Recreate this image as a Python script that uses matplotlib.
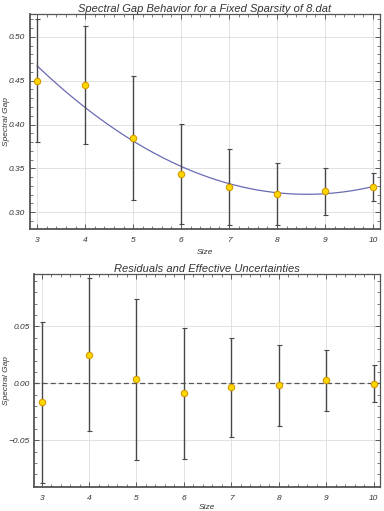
import numpy as np
import matplotlib
matplotlib.use("Agg")
import matplotlib.pyplot as plt
from matplotlib.ticker import MultipleLocator

plt.rcParams['font.family'] = ['Liberation Sans', 'DejaVu Sans']

size = [3, 4, 5, 6, 7, 8, 9, 10]
gap = [0.450, 0.445, 0.3844, 0.3435, 0.329, 0.3205, 0.3239, 0.3288]
sigma = [0.0705, 0.067, 0.0708, 0.0573, 0.0434, 0.0354, 0.027, 0.0163]
residuals = [-0.0167, 0.0252, 0.0035, -0.0088, -0.0035, -0.0018, 0.0025, -0.0003]
fit_coeffs = [0.004632, -0.079868, 0.664747]

title_top = "Spectral Gap Behavior for a Fixed Sparsity of 8.dat"
title_bot = "Residuals and Effective Uncertainties"
xlabel = "Size"
ylabel = "Spectral Gap"

fig = plt.figure(figsize=(3.84, 5.11), dpi=100)
ax1 = fig.add_axes([0.078, 0.552, 0.912, 0.4207])
ax2 = fig.add_axes([0.0893, 0.0476, 0.9007, 0.4162])

frame_col = '#555555'
tick_col = '#444444'
txt_col = '#333333'
marker_kw = dict(fmt='o', markersize=4.6, markerfacecolor='#FFD700',
                 markeredgecolor='#D49A00', markeredgewidth=0.8,
                 ecolor='#484848', elinewidth=1.0, capsize=1.8, capthick=0.8,
                 zorder=4)


def style(ax, xlab_y, ylab_x):
    for s in ax.spines.values():
        s.set_color(frame_col)
        s.set_linewidth(0.9)
    ax.spines['left'].set_linewidth(1.3)
    ax.spines['bottom'].set_linewidth(1.3)
    ax.tick_params(which='both', direction='in', top=True, right=True,
                   colors=tick_col, labelcolor=txt_col, labelsize=6)
    ax.tick_params(which='major', length=3.5, width=0.6)
    ax.tick_params(which='minor', length=2, width=0.5)
    ax.xaxis.set_major_locator(MultipleLocator(1))
    ax.xaxis.set_minor_locator(MultipleLocator(0.2))
    ax.grid(True, which='major', color='#DDDDDD', linewidth=0.6, zorder=0)
    ax.set_axisbelow(True)
    for lab in ax.get_xticklabels() + ax.get_yticklabels():
        lab.set_fontstyle('italic')
    ax.tick_params(axis='x', pad=6)
    ax.set_xlabel(xlabel, fontsize=6, fontstyle='italic', color=txt_col)
    ax.set_ylabel(ylabel, fontsize=6, fontstyle='italic', color=txt_col)
    ax.xaxis.set_label_coords(0.5, xlab_y)
    ax.xaxis.label.set_va('center')
    ax.yaxis.set_label_coords(ylab_x, 0.5)
    ax.yaxis.label.set_va('center')


# Top panel
xs = np.linspace(size[0], size[-1], 300)
ax1.plot(xs, np.polyval(fit_coeffs, xs), color='#6A6AB4', linewidth=0.9, zorder=3)
ax1.errorbar(size, gap, yerr=sigma, **marker_kw)
ax1.set_xlim(2.85, 10.15)
ax1.set_ylim(0.281, 0.526)
ax1.yaxis.set_major_locator(MultipleLocator(0.05))
ax1.yaxis.set_minor_locator(MultipleLocator(0.01))
ax1.yaxis.set_major_formatter(matplotlib.ticker.FormatStrFormatter('%.2f'))
style(ax1, -0.110, -0.068)
ax1.set_title(title_top, fontsize=8, fontstyle='italic', color=txt_col, pad=1.5)

# Bottom panel
ax2.axhline(0, color='#555555', linestyle=(0, (4, 2.5)), linewidth=0.9, zorder=2)
ax2.errorbar(size, residuals, yerr=sigma, **marker_kw)
ax2.set_xlim(2.845, 10.14)
ax2.set_ylim(-0.0907, 0.0959)
ax2.yaxis.set_major_locator(MultipleLocator(0.05))
ax2.yaxis.set_minor_locator(MultipleLocator(0.01))
ax2.yaxis.set_major_formatter(matplotlib.ticker.FuncFormatter(
    lambda v, p: ('\u22120.05' if v < -0.01 else ('0.00' if abs(v) < 0.01 else '0.05'))))
style(ax2, -0.098, -0.081)
ax2.set_title(title_bot, fontsize=8, fontstyle='italic', color=txt_col, pad=1.5)

fig.savefig('out.png', dpi=100)
